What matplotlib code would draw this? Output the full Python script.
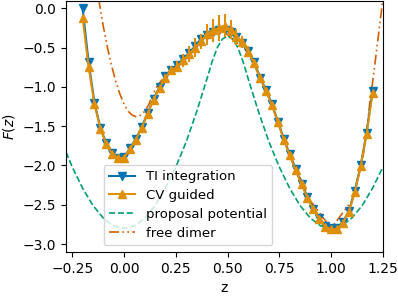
import numpy as np
import matplotlib
matplotlib.use("Agg")
import matplotlib.pyplot as plt

# sample positions of the TI / CV points
z_pts = np.linspace(-0.2, 1.2, 50)

F_TI = [0.00, -0.68, -1.20, -1.52, -1.72, -1.84, -1.90, -1.89, -1.78, -1.66,
        -1.51, -1.33, -1.15, -1.00, -0.86, -0.78, -0.72, -0.64, -0.57, -0.48,
        -0.39, -0.34, -0.30, -0.28, -0.28, -0.30, -0.36, -0.44, -0.54, -0.68,
        -0.88, -1.04, -1.22, -1.44, -1.66, -1.86, -2.05, -2.23, -2.40, -2.55,
        -2.67, -2.77, -2.80, -2.80, -2.72, -2.58, -2.33, -2.00, -1.58, -1.05]

F_CV = [-0.12, -0.74, -1.22, -1.53, -1.73, -1.85, -1.91, -1.90, -1.79, -1.67,
        -1.52, -1.34, -1.16, -1.01, -0.88, -0.79, -0.74, -0.66, -0.58, -0.50,
        -0.42, -0.33, -0.28, -0.25, -0.22, -0.27, -0.36, -0.43, -0.55, -0.70,
        -0.89, -1.05, -1.23, -1.45, -1.67, -1.87, -2.06, -2.24, -2.41, -2.56,
        -2.68, -2.78, -2.81, -2.81, -2.73, -2.59, -2.34, -2.01, -1.60, -1.08]

CV_err = [0.03, 0.03, 0.02, 0.02, 0.02, 0.02, 0.02, 0.02, 0.02, 0.03,
          0.03, 0.03, 0.04, 0.04, 0.05, 0.06, 0.07, 0.08, 0.10, 0.12,
          0.10, 0.13, 0.15, 0.17, 0.15, 0.12, 0.10, 0.08, 0.07, 0.05,
          0.04, 0.03, 0.03, 0.03, 0.02, 0.02, 0.02, 0.02, 0.02, 0.02,
          0.02, 0.02, 0.02, 0.02, 0.02, 0.02, 0.02, 0.02, 0.02, 0.02]

# proposal potential
z_prop = [-0.28, -0.25, -0.2, -0.15, -0.1, -0.05, 0.0, 0.05, 0.1, 0.15, 0.2,
          0.25, 0.3, 0.35, 0.4, 0.425, 0.45, 0.475, 0.5, 0.525, 0.55, 0.575,
          0.6, 0.65, 0.7, 0.75, 0.8, 0.85, 0.9, 0.95, 1.0, 1.05, 1.1, 1.15,
          1.2, 1.25]
V_prop = [-1.83, -2.02, -2.29, -2.51, -2.67, -2.77, -2.80, -2.77, -2.67, -2.51,
          -2.29, -2.02, -1.70, -1.32, -0.90, -0.68, -0.50, -0.39, -0.35, -0.39,
          -0.50, -0.68, -0.90, -1.32, -1.70, -2.02, -2.29, -2.51, -2.67, -2.77,
          -2.80, -2.77, -2.67, -2.51, -2.29, -2.02]

# free dimer
z_free = [-0.14, -0.12, -0.10, -0.08, -0.06, -0.04, -0.02, 0.0, 0.02, 0.04,
          0.06, 0.08, 0.10, 0.12, 0.14, 0.16, 0.18, 0.2, 0.3, 0.4, 0.48, 0.6,
          0.7, 0.8, 0.9, 1.0, 1.1, 1.15, 1.17, 1.19, 1.2, 1.225, 1.25, 1.27]
F_free = [0.42, 0.08, -0.23, -0.50, -0.73, -0.93, -1.09, -1.22, -1.31, -1.36,
          -1.38, -1.36, -1.31, -1.22, -1.09, -0.99, -0.92, -0.87, -0.62, -0.37,
          -0.29, -0.56, -1.12, -1.86, -2.45, -2.80, -2.45, -1.95, -1.62, -1.12,
          -0.95, -0.42, 0.12, 0.50]

c_blue, c_orange, c_green, c_red = "#0173B2", "#DE8F05", "#029E73", "#D55E00"

fig = plt.figure(figsize=(3.98, 2.97), dpi=100)
ax = fig.add_axes([0.166, 0.152, 0.796, 0.846])

ax.plot(z_free, F_free, linestyle=(0, (6, 2, 1, 2, 1, 2)), color=c_red, lw=1.2,
        label="free dimer", zorder=1)
ax.plot(z_prop, V_prop, "--", color=c_green, lw=1.2, label="proposal potential", zorder=1.5)
ax.plot(z_pts, F_TI, "-v", color=c_blue, ms=6, lw=1.5, label="TI integration", zorder=2)
ax.errorbar(z_pts, F_CV, yerr=CV_err, fmt="none", ecolor=c_orange, elinewidth=1.5, zorder=2.5)
ax.plot(z_pts, F_CV, "-^", color=c_orange, ms=6, lw=1.5, label="CV guided", zorder=3)

h, lab = ax.get_legend_handles_labels()
order = [lab.index(n) for n in ["TI integration", "CV guided", "proposal potential", "free dimer"]]
ax.legend([h[i] for i in order], [lab[i] for i in order], loc="lower center",
          bbox_to_anchor=(0.385, 0.0), fontsize=9.5, framealpha=0.8,
          labelspacing=0.45)

ax.set_xlim(-0.28, 1.25)
ax.set_ylim(-3.1, 0.1)
ax.set_xticks([-0.25, 0.0, 0.25, 0.5, 0.75, 1.0, 1.25])
ax.set_yticks([0.0, -0.5, -1.0, -1.5, -2.0, -2.5, -3.0])
ax.tick_params(labelsize=10)
ax.set_xlabel("z", fontsize=10)
ax.set_ylabel("$F(z)$", fontsize=10)

fig.savefig("out.png", dpi=100)
